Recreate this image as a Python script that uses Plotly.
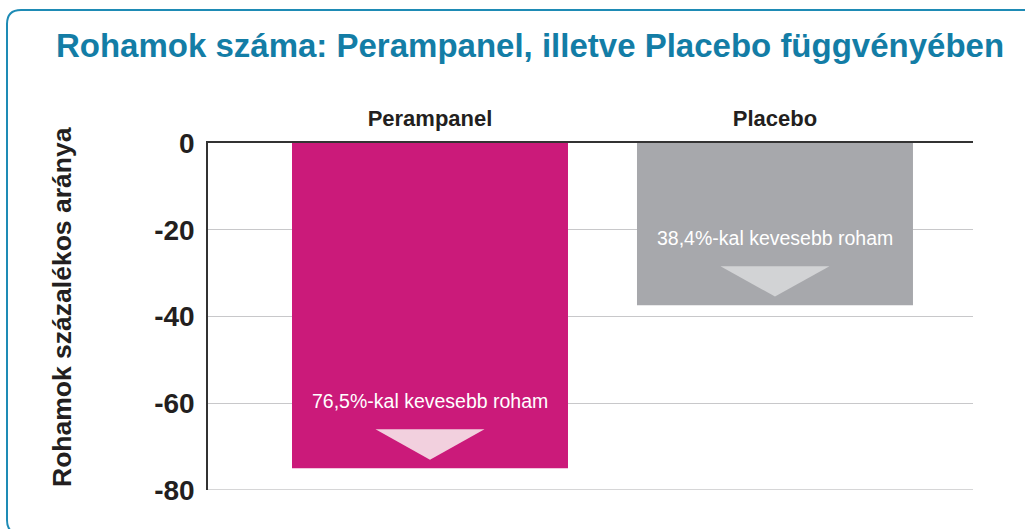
import plotly.graph_objects as go

# ---- data ----
categories = ["Perampanel", "Placebo"]
values = [-75.0, -37.4]
labels = ["76,5%-kal kevesebb roham", "38,4%-kal kevesebb roham"]
y_ticks = [0, -20, -40, -60, -80]
title_text = "Rohamok száma: Perampanel, illetve Placebo függvényében"
y_title = "Rohamok százalékos aránya"

bar_colors = ["#CB1A7A", "#A7A8AC"]
tri_colors = ["#F2D0DE", "#D2D3D5"]

W, H = 1025, 529
ML, MR, MT, MB = 208, 52, 143, 39
PW, PH = W - ML - MR, H - MT - MB
FONT = "Arial, Liberation Sans, sans-serif"

xpos = list(range(len(categories)))


def px(x):
    return (x - ML) / PW


def py(y):
    return (H - MB - y) / PH


fig = go.Figure()
fig.add_trace(go.Bar(
    x=xpos, y=values, width=0.8,
    marker=dict(color=bar_colors, line=dict(width=0)),
    showlegend=False, hoverinfo="skip",
))

# triangles (relative to each bar's value)
half_w = 0.158
for i, v in enumerate(values):
    fig.add_trace(go.Scatter(
        x=[i - half_w, i + half_w, i, i - half_w],
        y=[v + 9.0, v + 9.0, v + 2.0, v + 9.0],
        fill="toself", fillcolor=tri_colors[i],
        line=dict(width=0, color=tri_colors[i]),
        mode="lines", showlegend=False, hoverinfo="skip",
    ))
    fig.add_annotation(
        x=i, y=v + 15.6, xref="x", yref="y", text=labels[i],
        showarrow=False, font=dict(family=FONT, size=19.5, color="white"),
    )

# y-axis title
fig.add_annotation(
    x=px(62), y=py(307), xref="paper", yref="paper",
    text="<b>" + y_title + "</b>", textangle=-90, showarrow=False,
    xanchor="center", yanchor="middle",
    font=dict(family=FONT, size=26.5, color="#231F20"),
)

# bottom gridline at the lowest tick
fig.add_shape(type="line", xref="paper", yref="y", x0=0, x1=1,
              y0=y_ticks[-1], y1=y_ticks[-1],
              line=dict(color="#C8C8CA", width=1.5), layer="below")

# rounded border box
r = 14
L, T, R, B = 7, 10, 1060, 534
path = (
    f"M {px(R)},{py(T)} L {px(L + r)},{py(T)} "
    f"Q {px(L)},{py(T)} {px(L)},{py(T + r)} "
    f"L {px(L)},{py(B - r)} "
    f"Q {px(L)},{py(B)} {px(L + r)},{py(B)} "
    f"L {px(R)},{py(B)}"
)
fig.add_shape(type="path", path=path, xref="paper", yref="paper",
              line=dict(color="#1E8BB5", width=2), layer="below")

fig.update_layout(
    width=W, height=H,
    margin=dict(l=ML, r=MR, t=MT, b=MB, pad=0),
    paper_bgcolor="white", plot_bgcolor="white",
    font=dict(family=FONT, color="#231F20"),
    title=dict(text="<b>" + title_text + "</b>", xref="container", yref="container",
               x=530 / W, y=1 - 45 / H, xanchor="center", yanchor="middle",
               font=dict(family=FONT, size=33, color="#137DA6")),
    xaxis=dict(
        range=[-0.6435, 1.574], side="top",
        tickmode="array", tickvals=xpos,
        ticktext=["<b>" + c + "</b>" for c in categories],
        tickfont=dict(family=FONT, size=22, color="#231F20"),
        showline=True, linecolor="#333333", linewidth=2,
        showgrid=False, zeroline=False, ticks="", ticklabelstandoff=6,
    ),
    yaxis=dict(
        range=[-80, 0], tickmode="array", tickvals=y_ticks,
        ticktext=["<b>" + str(t) + "</b>" for t in y_ticks],
        tickfont=dict(family=FONT, size=28, color="#231F20"),
        showline=True, linecolor="#333333", linewidth=1.5,
        showgrid=True, gridcolor="#C8C8CA", gridwidth=1,
        zeroline=False, ticks="", ticklabelstandoff=6,
    ),
)

fig.write_html("out.html", config={"displayModeBar": False},
               post_script="document.body.style.margin='0px';")
